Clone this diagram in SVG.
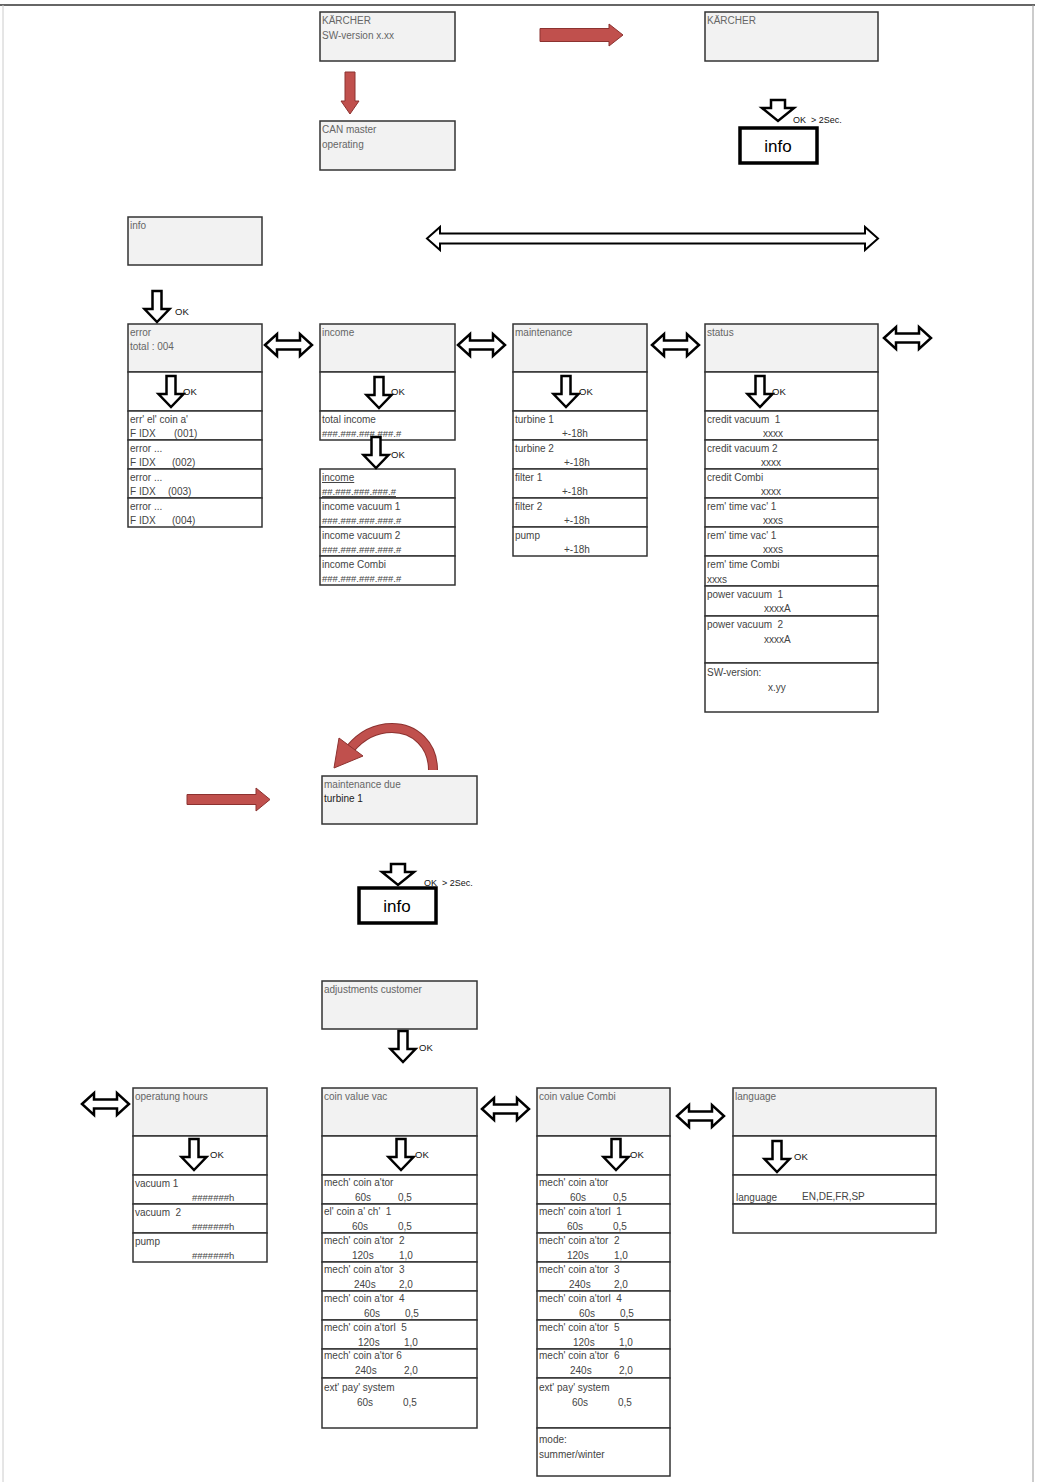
<svg xmlns="http://www.w3.org/2000/svg" width="1037" height="1482" viewBox="0 0 1037 1482" xml:space="preserve">
<style>
.box{fill:#f2f2f2;stroke:#333;stroke-width:1.5}
.cell{fill:#fff;stroke:#333;stroke-width:1.5}
.t{font-family:"Liberation Sans",Arial,sans-serif;font-size:10px;fill:#444;white-space:pre}
.h{fill:#666}
.hs{font-size:9.5px}
.u{text-decoration:underline}
.ok{font-family:"Liberation Sans",Arial,sans-serif;font-size:9.5px;fill:#111;white-space:pre}
.hollow{fill:#fff;stroke:#000;stroke-width:2.5;stroke-linejoin:miter}
.red{fill:#c0504d;stroke:#8c3230;stroke-width:1}
.infobox{fill:#fff;stroke:#000;stroke-width:3.5}
.infot{font-family:"Liberation Sans",Arial,sans-serif;font-size:17px;fill:#000;text-anchor:middle}
</style>
<defs>
<path id="okArrow" d="M-4.5,0 H4.5 V18 H12.5 L0,31 L-12.5,18 H-4.5 Z"/>
<path id="infoArrow" d="M-7,0 H7 V8 H16 L0,21 L-16,8 H-7 Z"/>
<path id="dbl" d="M0,11 L12,0 V6.5 H35 V0 L47,11 L35,22 V15.5 H12 V22 Z"/>
</defs>
<rect x="0" y="0" width="1037" height="1482" fill="#fff"/>
<line x1="0" y1="5" x2="1035" y2="5" stroke="#333" stroke-width="1.5"/>
<line x1="1033" y1="5" x2="1033" y2="1482" stroke="#999" stroke-width="1"/>
<line x1="3" y1="5" x2="3" y2="1482" stroke="#ccc" stroke-width="1"/>

<g id="node-karcher-sw">
<rect class="box" x="320" y="12" width="135" height="49"/>
<text class="t h" x="322" y="24">KÄRCHER</text>
<text class="t h" x="322" y="39">SW-version x.xx</text>
</g>
<g id="node-can-master">
<rect class="box" x="320" y="121" width="135" height="49"/>
<text class="t h" x="322" y="133">CAN master</text>
<text class="t h" x="322" y="148">operating</text>
</g>
<g id="node-karcher">
<rect class="box" x="705" y="12" width="173" height="49"/>
<text class="t h" x="707" y="24">KÄRCHER</text>
</g>
<g id="node-info-top">
<rect class="infobox" x="740" y="128" width="77" height="35"/>
<text class="infot" x="778" y="152">info</text>
</g>
<g id="node-info">
<rect class="box" x="128" y="217" width="134" height="48"/>
<text class="t h" x="130" y="229">info</text>
</g>

<g id="node-error">
<rect class="box" x="128" y="324" width="134" height="48"/>
<text class="t h" x="130" y="336">error</text>
<text class="t h" x="130" y="350">total : 004</text>
<rect class="cell" x="128" y="372" width="134" height="39"/>
<rect class="cell" x="128" y="411" width="134" height="29"/>
<rect class="cell" x="128" y="440" width="134" height="29"/>
<rect class="cell" x="128" y="469" width="134" height="29"/>
<rect class="cell" x="128" y="498" width="134" height="29"/>
<text class="t" x="130" y="423">err' el' coin a'</text><text class="t" x="130" y="437">F IDX</text><text class="t" x="174" y="437">(001)</text>
<text class="t" x="130" y="452">error ...</text><text class="t" x="130" y="466">F IDX</text><text class="t" x="172" y="466">(002)</text>
<text class="t" x="130" y="481">error ...</text><text class="t" x="130" y="495">F IDX</text><text class="t" x="168" y="495">(003)</text>
<text class="t" x="130" y="510">error ...</text><text class="t" x="130" y="524">F IDX</text><text class="t" x="172" y="524">(004)</text>
</g>

<g id="node-income">
<rect class="box" x="320" y="324" width="135" height="48"/>
<text class="t h" x="322" y="336">income</text>
<rect class="cell" x="320" y="372" width="135" height="39"/>
<rect class="cell" x="320" y="411" width="135" height="29"/>
<text class="t" x="322" y="423">total income</text>
<text class="t hs" x="322" y="437">###.###.###.###.#</text>
</g>
<g id="node-income-detail">
<rect class="cell" x="320" y="469" width="135" height="29"/>
<rect class="cell" x="320" y="498" width="135" height="29"/>
<rect class="cell" x="320" y="527" width="135" height="29"/>
<rect class="cell" x="320" y="556" width="135" height="29"/>
<text class="t u" x="322" y="481">income</text><text class="t hs u" x="322" y="495">##.###.###.###.#</text>
<text class="t" x="322" y="510">income vacuum 1</text><text class="t hs" x="322" y="524">###.###.###.###.#</text>
<text class="t" x="322" y="539">income vacuum 2</text><text class="t hs" x="322" y="553">###.###.###.###.#</text>
<text class="t" x="322" y="568">income Combi</text><text class="t hs" x="322" y="582">###.###.###.###.#</text>
</g>

<g id="node-maintenance">
<rect class="box" x="513" y="324" width="134" height="48"/>
<text class="t h" x="515" y="336">maintenance</text>
<rect class="cell" x="513" y="372" width="134" height="39"/>
<rect class="cell" x="513" y="411" width="134" height="29"/>
<rect class="cell" x="513" y="440" width="134" height="29"/>
<rect class="cell" x="513" y="469" width="134" height="29"/>
<rect class="cell" x="513" y="498" width="134" height="29"/>
<rect class="cell" x="513" y="527" width="134" height="29"/>
<text class="t" x="515" y="423">turbine 1</text><text class="t" x="562" y="437">+-18h</text>
<text class="t" x="515" y="452">turbine 2</text><text class="t" x="564" y="466">+-18h</text>
<text class="t" x="515" y="481">filter 1</text><text class="t" x="562" y="495">+-18h</text>
<text class="t" x="515" y="510">filter 2</text><text class="t" x="564" y="524">+-18h</text>
<text class="t" x="515" y="539">pump</text><text class="t" x="564" y="553">+-18h</text>
</g>

<g id="node-status">
<rect class="box" x="705" y="324" width="173" height="48"/>
<text class="t h" x="707" y="336">status</text>
<rect class="cell" x="705" y="372" width="173" height="39"/>
<rect class="cell" x="705" y="411" width="173" height="29"/>
<rect class="cell" x="705" y="440" width="173" height="29"/>
<rect class="cell" x="705" y="469" width="173" height="29"/>
<rect class="cell" x="705" y="498" width="173" height="29"/>
<rect class="cell" x="705" y="527" width="173" height="29"/>
<rect class="cell" x="705" y="556" width="173" height="30"/>
<rect class="cell" x="705" y="586" width="173" height="30"/>
<rect class="cell" x="705" y="616" width="173" height="47"/>
<rect class="cell" x="705" y="663" width="173" height="49"/>
<text class="t" x="707" y="423">credit vacuum  1</text><text class="t" x="763" y="437">xxxx</text>
<text class="t" x="707" y="452">credit vacuum 2</text><text class="t" x="761" y="466">xxxx</text>
<text class="t" x="707" y="481">credit Combi</text><text class="t" x="761" y="495">xxxx</text>
<text class="t" x="707" y="510">rem' time vac' 1</text><text class="t" x="763" y="524">xxxs</text>
<text class="t" x="707" y="539">rem' time vac' 1</text><text class="t" x="763" y="553">xxxs</text>
<text class="t" x="707" y="568">rem' time Combi</text><text class="t" x="707" y="583">xxxs</text>
<text class="t" x="707" y="598">power vacuum  1</text><text class="t" x="764" y="612">xxxxA</text>
<text class="t" x="707" y="628">power vacuum  2</text><text class="t" x="764" y="643">xxxxA</text>
<text class="t" x="707" y="676">SW-version:</text><text class="t" x="768" y="691">x.yy</text>
</g>

<g id="node-maintenance-due">
<rect class="box" x="322" y="776" width="155" height="48"/>
<text class="t h" x="324" y="788">maintenance due</text>
<text class="t" x="324" y="802" style="fill:#222">turbine 1</text>
</g>
<g id="node-info-mid">
<rect class="infobox" x="359" y="888" width="77" height="35"/>
<text class="infot" x="397" y="912">info</text>
</g>

<g id="node-adjustments">
<rect class="box" x="322" y="981" width="155" height="48"/>
<text class="t h" x="324" y="993">adjustments customer</text>
</g>

<g id="node-operating-hours">
<rect class="box" x="133" y="1088" width="134" height="48"/>
<text class="t h" x="135" y="1100">operatung hours</text>
<rect class="cell" x="133" y="1136" width="134" height="39"/>
<rect class="cell" x="133" y="1175" width="134" height="29"/>
<rect class="cell" x="133" y="1204" width="134" height="29"/>
<rect class="cell" x="133" y="1233" width="134" height="29"/>
<text class="t" x="135" y="1187">vacuum 1</text><text class="t hs" x="192" y="1201">#######h</text>
<text class="t" x="135" y="1216">vacuum  2</text><text class="t hs" x="192" y="1230">#######h</text>
<text class="t" x="135" y="1245">pump</text><text class="t hs" x="192" y="1259">#######h</text>
</g>

<g id="node-coin-vac">
<rect class="box" x="322" y="1088" width="155" height="48"/>
<text class="t h" x="324" y="1100">coin value vac</text>
<rect class="cell" x="322" y="1136" width="155" height="39"/>
<rect class="cell" x="322" y="1175" width="155" height="29"/>
<rect class="cell" x="322" y="1204" width="155" height="29"/>
<rect class="cell" x="322" y="1233" width="155" height="29"/>
<rect class="cell" x="322" y="1262" width="155" height="29"/>
<rect class="cell" x="322" y="1291" width="155" height="29"/>
<rect class="cell" x="322" y="1320" width="155" height="29"/>
<rect class="cell" x="322" y="1349" width="155" height="29"/>
<rect class="cell" x="322" y="1378" width="155" height="50"/>
<text class="t" x="324" y="1186">mech' coin a'tor</text><text class="t" x="355" y="1201">60s</text><text class="t" x="398" y="1201">0,5</text>
<text class="t" x="324" y="1215">el' coin a' ch'  1</text><text class="t" x="352" y="1230">60s</text><text class="t" x="398" y="1230">0,5</text>
<text class="t" x="324" y="1244">mech' coin a'tor  2</text><text class="t" x="352" y="1259">120s</text><text class="t" x="399" y="1259">1,0</text>
<text class="t" x="324" y="1273">mech' coin a'tor  3</text><text class="t" x="354" y="1288">240s</text><text class="t" x="399" y="1288">2,0</text>
<text class="t" x="324" y="1302">mech' coin a'tor  4</text><text class="t" x="364" y="1317">60s</text><text class="t" x="405" y="1317">0,5</text>
<text class="t" x="324" y="1331">mech' coin a'torl  5</text><text class="t" x="358" y="1346">120s</text><text class="t" x="404" y="1346">1,0</text>
<text class="t" x="324" y="1359">mech' coin a'tor 6</text><text class="t" x="355" y="1374">240s</text><text class="t" x="404" y="1374">2,0</text>
<text class="t" x="324" y="1391">ext' pay' system</text><text class="t" x="357" y="1406">60s</text><text class="t" x="403" y="1406">0,5</text>
</g>

<g id="node-coin-combi">
<rect class="box" x="537" y="1088" width="133" height="48"/>
<text class="t h" x="539" y="1100">coin value Combi</text>
<rect class="cell" x="537" y="1136" width="133" height="39"/>
<rect class="cell" x="537" y="1175" width="133" height="29"/>
<rect class="cell" x="537" y="1204" width="133" height="29"/>
<rect class="cell" x="537" y="1233" width="133" height="29"/>
<rect class="cell" x="537" y="1262" width="133" height="29"/>
<rect class="cell" x="537" y="1291" width="133" height="29"/>
<rect class="cell" x="537" y="1320" width="133" height="29"/>
<rect class="cell" x="537" y="1349" width="133" height="29"/>
<rect class="cell" x="537" y="1378" width="133" height="50"/>
<rect class="cell" x="537" y="1428" width="133" height="48"/>
<text class="t" x="539" y="1186">mech' coin a'tor</text><text class="t" x="570" y="1201">60s</text><text class="t" x="613" y="1201">0,5</text>
<text class="t" x="539" y="1215">mech' coin a'torl  1</text><text class="t" x="567" y="1230">60s</text><text class="t" x="613" y="1230">0,5</text>
<text class="t" x="539" y="1244">mech' coin a'tor  2</text><text class="t" x="567" y="1259">120s</text><text class="t" x="614" y="1259">1,0</text>
<text class="t" x="539" y="1273">mech' coin a'tor  3</text><text class="t" x="569" y="1288">240s</text><text class="t" x="614" y="1288">2,0</text>
<text class="t" x="539" y="1302">mech' coin a'torl  4</text><text class="t" x="579" y="1317">60s</text><text class="t" x="620" y="1317">0,5</text>
<text class="t" x="539" y="1331">mech' coin a'tor  5</text><text class="t" x="573" y="1346">120s</text><text class="t" x="619" y="1346">1,0</text>
<text class="t" x="539" y="1359">mech' coin a'tor  6</text><text class="t" x="570" y="1374">240s</text><text class="t" x="619" y="1374">2,0</text>
<text class="t" x="539" y="1391">ext' pay' system</text><text class="t" x="572" y="1406">60s</text><text class="t" x="618" y="1406">0,5</text>
<text class="t" x="539" y="1443">mode:</text><text class="t" x="539" y="1458">summer/winter</text>
</g>

<g id="node-language">
<rect class="box" x="733" y="1088" width="203" height="48"/>
<text class="t h" x="735" y="1100">language</text>
<rect class="cell" x="733" y="1136" width="203" height="39"/>
<rect class="cell" x="733" y="1175" width="203" height="29"/>
<rect class="cell" x="733" y="1204" width="203" height="29"/>
<text class="t" x="736" y="1201">language</text><text class="t" x="802" y="1200">EN,DE,FR,SP</text>
</g>

<g id="connectors">
<path class="red" d="M345,72 H355 V101 H359 L350,114 L341,101 H345 Z"/>
<path class="red" d="M540,28.5 H609 V24 L623,35 L609,46 V41.5 H540 Z"/>
<path class="red" d="M187,794.5 H256 V788 L270,799.5 L256,811 V804.5 H187 Z"/>
<path d="M433,770 C433,745 415,728 392,728 C373,728 360,737 350,749" fill="none" stroke="#8c3230" stroke-width="10"/>
<path d="M433,770 C433,745 415,728 392,728 C373,728 360,737 350,749" fill="none" stroke="#c0504d" stroke-width="8"/>
<path class="red" d="M339,738 L363,756 L334,768 Z"/>
<path class="hollow" style="stroke-width:2" d="M427,238.5 L440,227 V233.5 H865 V227 L878,238.5 L865,250 V243.5 H440 V250 Z"/>
<use href="#dbl" class="hollow" x="265" y="334"/>
<use href="#dbl" class="hollow" x="458" y="334"/>
<use href="#dbl" class="hollow" x="652" y="334"/>
<use href="#dbl" class="hollow" x="884" y="327"/>
<use href="#dbl" class="hollow" x="82" y="1093"/>
<use href="#dbl" class="hollow" x="482" y="1098"/>
<use href="#dbl" class="hollow" x="677" y="1105"/>
<use href="#infoArrow" class="hollow" x="778" y="100"/>
<text class="ok" x="793" y="123" style="font-size:9px">OK  &gt; 2Sec.</text>
<use href="#infoArrow" class="hollow" x="398" y="864"/>
<text class="ok" x="424" y="886" style="font-size:9px">OK  &gt; 2Sec.</text>
<use href="#okArrow" class="hollow" x="157" y="291"/>
<text class="ok" x="175" y="315">OK</text>
<use href="#okArrow" class="hollow" x="171" y="376"/>
<text class="ok" x="183" y="395">OK</text>
<use href="#okArrow" class="hollow" x="379" y="377"/>
<text class="ok" x="391" y="395">OK</text>
<use href="#okArrow" class="hollow" x="376" y="437"/>
<text class="ok" x="391" y="458">OK</text>
<use href="#okArrow" class="hollow" x="566" y="376"/>
<text class="ok" x="579" y="395">OK</text>
<use href="#okArrow" class="hollow" x="760" y="376"/>
<text class="ok" x="772" y="395">OK</text>
<use href="#okArrow" class="hollow" x="403" y="1031"/>
<text class="ok" x="419" y="1051">OK</text>
<use href="#okArrow" class="hollow" x="194" y="1139"/>
<text class="ok" x="210" y="1158">OK</text>
<use href="#okArrow" class="hollow" x="401" y="1139"/>
<text class="ok" x="415" y="1158">OK</text>
<use href="#okArrow" class="hollow" x="616" y="1139"/>
<text class="ok" x="630" y="1158">OK</text>
<use href="#okArrow" class="hollow" x="777" y="1141"/>
<text class="ok" x="794" y="1160">OK</text>
</g>
</svg>
